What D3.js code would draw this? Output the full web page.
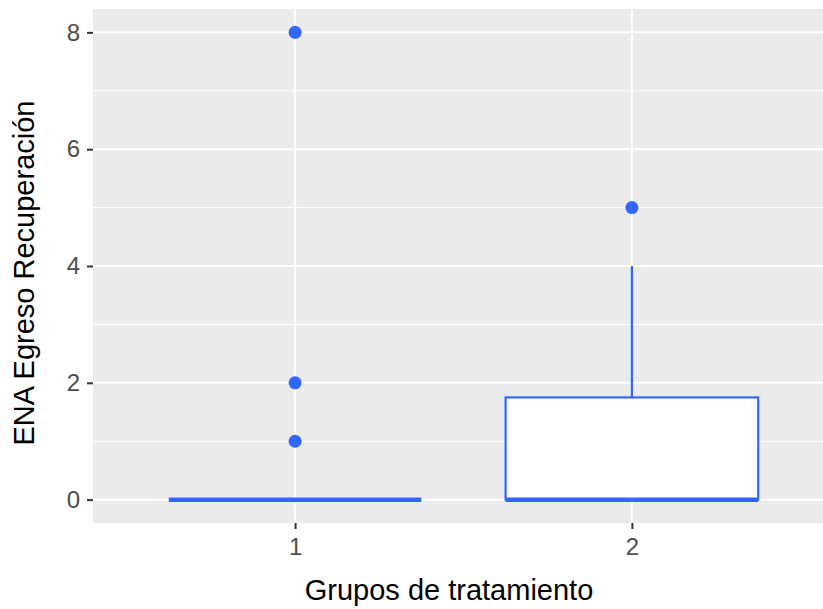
<!DOCTYPE html>
<html>
<head>
<meta charset="utf-8">
<script src="https://cdn.jsdelivr.net/npm/d3@7"></script>
<style>
  body { margin: 0; background: #fff; }
  svg { display: block; font-family: "Liberation Sans", Arial, sans-serif; }
</style>
</head>
<body>
<script>
// boxplot ENA por grupo

let w = 823;
let h = 609;

let groups = ['1', '2'];
let q1 = [0, 0];
let medians = [0, 0];
let q3 = [0, 1.75];
let whiskerLow = [0, 0];
let whiskerHigh = [0, 4];
let outliers = [
    { group: '1', value: 8 },
    { group: '1', value: 2 },
    { group: '1', value: 1 },
    { group: '2', value: 5 }
];
let yTicks = [0, 2, 4, 6, 8];
let yMinor = [1, 3, 5, 7];

let boxes = groups.map((g, i) => ({
    group: g, q1: q1[i], med: medians[i], q3: q3[i], lo: whiskerLow[i], hi: whiskerHigh[i]
}));

let panel = { left: 93, top: 9, right: 834, bottom: 523 };
let blue = '#3366FF';

let svg = d3.select('body').append('svg').attr('width', w).attr('height', h);

let x = d3.scaleLinear().domain([0.4, 2.6]).range([panel.left, panel.right]);
let xi = g => groups.indexOf(g) + 1;
let y = d3.scaleLinear().domain([-0.4, 8.4]).range([panel.bottom, panel.top]);
let boxW = 0.75;

// panel
svg.append('rect')
    .attr('x', panel.left).attr('y', panel.top)
    .attr('width', panel.right - panel.left).attr('height', panel.bottom - panel.top)
    .attr('fill', '#EBEBEB');

// minor grid
svg.selectAll('.minor')
    .data(yMinor)
    .enter()
    .append('line')
    .attr('x1', panel.left).attr('x2', panel.right)
    .attr('y1', d => y(d)).attr('y2', d => y(d))
    .attr('stroke', '#fff').attr('stroke-width', 1);

// major grid
svg.selectAll('.major')
    .data(yTicks)
    .enter()
    .append('line')
    .attr('x1', panel.left).attr('x2', panel.right)
    .attr('y1', d => y(d)).attr('y2', d => y(d))
    .attr('stroke', '#fff').attr('stroke-width', 2);

svg.selectAll('.vmajor')
    .data(groups)
    .enter()
    .append('line')
    .attr('x1', d => x(xi(d))).attr('x2', d => x(xi(d)))
    .attr('y1', panel.top).attr('y2', panel.bottom)
    .attr('stroke', '#fff').attr('stroke-width', 2);

// axes
let yAxis = d3.axisLeft(y).tickValues(yTicks).tickSize(6).tickPadding(7);
let gy = svg.append('g').attr('transform', `translate(${panel.left},0)`).call(yAxis);
gy.select('.domain').remove();
gy.selectAll('line').attr('stroke', '#333').attr('stroke-width', 2);
gy.selectAll('text').attr('fill', '#4D4D4D').attr('font-size', '24px')
    .attr('font-family', '"Liberation Sans", Arial, sans-serif');

let xAxis = d3.axisBottom(x).tickValues(groups.map(xi)).tickFormat((d, i) => groups[i]).tickSize(6).tickPadding(9);
let gx = svg.append('g').attr('transform', `translate(0,${panel.bottom})`).call(xAxis);
gx.select('.domain').remove();
gx.selectAll('line').attr('stroke', '#333').attr('stroke-width', 2);
gx.selectAll('text').attr('fill', '#4D4D4D').attr('font-size', '24px')
    .attr('font-family', '"Liberation Sans", Arial, sans-serif');

// whiskers
svg.selectAll('.whisker')
    .data(boxes)
    .enter()
    .append('line')
    .attr('x1', d => x(xi(d.group))).attr('x2', d => x(xi(d.group)))
    .attr('y1', d => y(d.hi)).attr('y2', d => y(d.q3))
    .attr('stroke', blue).attr('stroke-width', 2.2);

svg.selectAll('.whiskerLo')
    .data(boxes)
    .enter()
    .append('line')
    .attr('x1', d => x(xi(d.group))).attr('x2', d => x(xi(d.group)))
    .attr('y1', d => y(d.lo)).attr('y2', d => y(d.q1))
    .attr('stroke', blue).attr('stroke-width', 2.2);

// boxes
svg.selectAll('.box')
    .data(boxes)
    .enter()
    .append('rect')
    .attr('x', d => x(xi(d.group) - boxW / 2))
    .attr('width', d => x(xi(d.group) + boxW / 2) - x(xi(d.group) - boxW / 2))
    .attr('y', d => y(d.q3))
    .attr('height', d => y(d.q1) - y(d.q3))
    .attr('fill', '#fff')
    .attr('stroke', blue).attr('stroke-width', 2.2);

// medians
svg.selectAll('.median')
    .data(boxes)
    .enter()
    .append('line')
    .attr('x1', d => x(xi(d.group) - boxW / 2))
    .attr('x2', d => x(xi(d.group) + boxW / 2))
    .attr('y1', d => y(d.med)).attr('y2', d => y(d.med))
    .attr('stroke', blue).attr('stroke-width', 4.5)
    .attr('stroke-linecap', 'butt');

// outliers
svg.selectAll('.outlier')
    .data(outliers)
    .enter()
    .append('circle')
    .attr('cx', d => x(xi(d.group)))
    .attr('cy', d => y(d.value))
    .attr('r', 6.5)
    .attr('fill', blue);

// titles
svg.append('text')
    .text('Grupos de tratamiento')
    .attr('x', 449).attr('y', 600)
    .attr('text-anchor', 'middle')
    .attr('font-size', '29px')
    .attr('fill', '#000');

svg.append('text')
    .text('ENA Egreso Recuperación')
    .attr('transform', 'translate(34,273) rotate(-90)')
    .attr('text-anchor', 'middle')
    .attr('font-size', '29px')
    .attr('fill', '#000');
</script>
</body>
</html>
